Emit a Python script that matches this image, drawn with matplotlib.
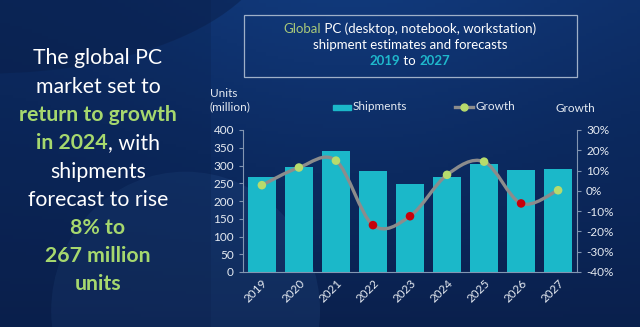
import numpy as np
import matplotlib
matplotlib.use("Agg")
import matplotlib.pyplot as plt
from matplotlib.path import Path
from matplotlib.patches import PathPatch, Rectangle, Ellipse
from matplotlib.colors import LinearSegmentedColormap

plt.rcParams['font.family'] = ['Lato', 'DejaVu Sans']

years = ["2019", "2020", "2021", "2022", "2023", "2024", "2025", "2026", "2027"]
shipments = [267, 297, 340, 285, 248, 267, 305, 287, 289]
growth = [2.8, 11.5, 14.9, -16.9, -12.5, 7.9, 14.4, -6.2, 0.3]

left_ticks = [0, 50, 100, 150, 200, 250, 300, 350, 400]
right_ticks = [-40, -30, -20, -10, 0, 10, 20, 30]

W, H = 640, 327
fig = plt.figure(figsize=(W / 100, H / 100), dpi=100)

# background
bg = fig.add_axes([0, 0, 1, 1])
gx, gy = np.meshgrid(np.linspace(0, 1, 200), np.linspace(0, 1, 100))
shade = 0.45 * (1 - gy) + 0.3 * np.exp(-((gx - 0.55) ** 2) / 0.15) * (1 - gy) + 0.15
cmap = LinearSegmentedColormap.from_list("bg", ["#091c45", "#0c2a60", "#123c80"])
bg.imshow(shade, cmap=cmap, aspect="auto", extent=[0, 1, 0, 1], origin="upper", vmin=0, vmax=1)
bg.add_patch(Ellipse((0.29, 0.05), 0.42, 0.85, color="#3a6aa8", alpha=0.16, lw=0))
bg.add_patch(Ellipse((-0.02, 1.2), 0.9, 0.85, color="#0a1f4a", alpha=0.5, lw=0))
bg.add_patch(Rectangle((0, 0), 0.33, 1, color="#0a1f4a", alpha=0.25, lw=0))
bg.set_xlim(0, 1)
bg.set_ylim(0, 1)
bg.axis("off")

green = "#a6d86e"
white = "#ffffff"
cyan = "#1fb8cc"
renderer = fig.canvas.get_renderer()


def seg_text(cx, cy, parts, size):
    # draw several coloured pieces of text on one centred line (pixel coords)
    objs = []
    widths = []
    for s, col, wt in parts:
        t = fig.text(0, 0, s, color=col, fontsize=size, fontweight=wt,
                     ha="left", va="center")
        widths.append(t.get_window_extent(renderer).width)
        objs.append(t)
    x = cx - sum(widths) / 2
    for t, w in zip(objs, widths):
        t.set_position((x / W, 1 - cy / H))
        x += w


lines = [
    (58, [("The global PC", white, "normal")]),
    (87, [("market set to", white, "normal")]),
    (115, [("return to growth", green, "bold")]),
    (143, [("in 2024", green, "bold"), (", with", white, "normal")]),
    (172, [("shipments", white, "normal")]),
    (200, [("forecast to rise", white, "normal")]),
    (228, [("8% to", green, "bold")]),
    (256, [("267 million", green, "bold")]),
    (284, [("units", green, "bold")]),
]
for y, parts in lines:
    seg_text(98, y, parts, 15.3)

# title box
fig.patches.append(Rectangle((244 / W, 1 - 77 / H), 333 / W, 62 / H,
                             transform=fig.transFigure, fill=False,
                             ec="#9fb0c8", lw=0.9))
seg_text(410, 29, [("Global", "#a9c97a", "normal"),
                   (" PC (desktop, notebook, workstation)", white, "normal")], 9.5)
seg_text(410, 45, [("shipment estimates and forecasts", white, "normal")], 9.5)
seg_text(410, 61, [("2019", cyan, "bold"), (" to ", white, "normal"),
                   ("2027", cyan, "bold")], 9.5)

# chart
ax = fig.add_axes([243 / W, 1 - 272 / H, 334 / W, 142 / H])
ax.patch.set_alpha(0)
x = np.arange(len(years))
ax.bar(x, shipments, width=0.77, color="#1bb8c9", zorder=2)
ax.set_xlim(-0.51, len(years) - 0.49)
ax.set_ylim(0, 400)
ax.set_yticks(left_ticks)
ax.set_xticks(x)
ax.set_xticklabels(years, rotation=45, ha="right", rotation_mode="anchor")

ax2 = ax.twinx()
ax2.set_ylim(-40, 30)
ax2.set_yticks(right_ticks)
ax2.set_yticklabels([f"{v}%" for v in right_ticks])

for a in (ax, ax2):
    for s in a.spines.values():
        s.set_visible(False)
    a.tick_params(colors="#7f93b0", labelcolor="#e6ebf2", labelsize=8.5,
                  length=3, width=0.8)
ax.spines["left"].set_visible(True)
ax.spines["left"].set_color("#8396b2")
ax.spines["bottom"].set_visible(True)
ax.spines["bottom"].set_color("#8396b2")
ax2.spines["right"].set_visible(True)
ax2.spines["right"].set_color("#8396b2")
ax.tick_params(axis="x", length=0, pad=4)

# smoothed growth line (Catmull-Rom as cubic Bezier segments)
pts = np.column_stack([x, growth]).astype(float)
ext = np.vstack([pts[0], pts, pts[-1]])
verts = [tuple(pts[0])]
codes = [Path.MOVETO]
for i in range(len(pts) - 1):
    p0, p1, p2, p3 = ext[i], ext[i + 1], ext[i + 2], ext[i + 3]
    c1 = p1 + (p2 - p0) / 6
    c2 = p2 - (p3 - p1) / 6
    verts += [tuple(c1), tuple(c2), tuple(p2)]
    codes += [Path.CURVE4] * 3
ax2.add_patch(PathPatch(Path(verts, codes), fill=False, ec="#8c8c8c", lw=2.4, zorder=3))
cols = ["#b7db6c" if g >= 0 else "#c8000a" for g in growth]
ax2.scatter(x, growth, s=38, c=cols, zorder=4, lw=0)

# legend and axis titles
fig.text(210 / W, 1 - 93 / H, "Units", color="#e6ebf2", fontsize=8.5, va="center")
fig.text(210 / W, 1 - 107 / H, "(million)", color="#e6ebf2", fontsize=8.5, va="center")
fig.patches.append(Rectangle((333 / W, 1 - 110 / H), 18 / W, 5 / H,
                             transform=fig.transFigure, color="#1bb8c9"))
fig.text(353 / W, 1 - 107 / H, "Shipments", color="#e6ebf2", fontsize=8.5, va="center")
fig.lines.append(plt.Line2D([455 / W, 473 / W], [1 - 107 / H] * 2,
                            transform=fig.transFigure, color="#8c8c8c", lw=2.4))
fig.lines.append(plt.Line2D([464 / W], [1 - 107 / H], transform=fig.transFigure,
                            marker="o", ms=5, color="#b7db6c", lw=0))
fig.text(475 / W, 1 - 107 / H, "Growth", color="#e6ebf2", fontsize=8.5, va="center")
fig.text(556 / W, 1 - 108 / H, "Growth", color="#e6ebf2", fontsize=8.5, va="center")

fig.savefig("out.png", dpi=100)
